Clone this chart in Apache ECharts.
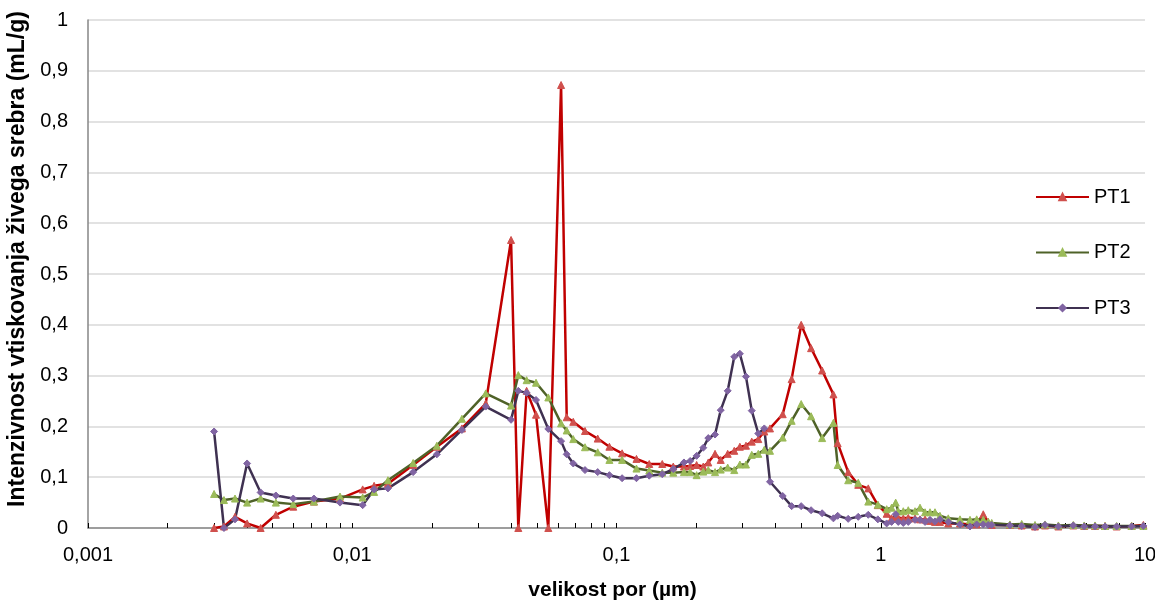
<!DOCTYPE html>
<html><head><meta charset="utf-8">
<script src="https://cdn.jsdelivr.net/npm/echarts@6/dist/echarts.min.js"></script>
<style>html,body{margin:0;padding:0;background:#fff}#c{width:1155px;height:601px}</style>
</head><body><div id="c"></div>
<script>
const poreSize = [0.0030,0.00327,0.0036,0.0040,0.0045,0.00514,0.00598,0.00716,0.00899,0.01095,0.0121,0.01365,0.017,0.0209,0.026,0.032,0.0399,0.0425,0.0457,0.0496,0.0552,0.0617,0.0648,0.0686,0.076,0.0849,0.094,0.105,0.119,0.133,0.149,0.164,0.18,0.19,0.201,0.213,0.2225,0.236,0.248,0.2635,0.279,0.293,0.309,0.325,0.344,0.3625,0.381,0.4256,0.46,0.5,0.545,0.6,0.662,0.687,0.753,0.822,0.897,0.975,1.053,1.099,1.139,1.165,1.217,1.271,1.348,1.408,1.471,1.536,1.604,1.675,1.801,1.995,2.177,2.307,2.443,2.55,2.63,3.08,3.415,3.835,4.183,4.70,5.355,5.89,6.47,7.06,7.81,8.9,9.86];
const pt1 = [0,0.003,0.022,0.009,0,0.026,0.042,0.052,0.058,0.076,0.083,0.087,0.124,0.16,0.196,0.245,0.567,0,0.27,0.223,0,0.872,0.218,0.209,0.191,0.176,0.16,0.147,0.136,0.126,0.126,0.121,0.121,0.122,0.124,0.121,0.129,0.146,0.134,0.146,0.152,0.16,0.162,0.17,0.175,0.19,0.196,0.224,0.293,0.4,0.354,0.31,0.263,0.167,0.11,0.085,0.078,0.045,0.028,0.019,0.022,0.02,0.019,0.02,0.019,0.017,0.017,0.014,0.012,0.012,0.009,0.009,0.007,0.007,0.027,0.012,0.006,0.006,0.005,0.003,0.005,0.003,0.005,0.004,0.004,0.004,0.003,0.004,0.006];
const pt2 = [0.067,0.055,0.058,0.05,0.058,0.05,0.047,0.052,0.062,0.06,0.071,0.094,0.128,0.162,0.215,0.265,0.241,0.301,0.291,0.286,0.257,0.206,0.192,0.175,0.159,0.149,0.134,0.134,0.117,0.113,0.109,0.109,0.11,0.11,0.104,0.111,0.114,0.11,0.115,0.119,0.114,0.125,0.125,0.144,0.146,0.154,0.152,0.178,0.211,0.244,0.22,0.177,0.207,0.124,0.094,0.089,0.052,0.046,0.037,0.04,0.05,0.033,0.033,0.035,0.033,0.04,0.031,0.031,0.031,0.024,0.019,0.017,0.016,0.017,0.016,0.012,0.01,0.007,0.008,0.006,0.007,0.005,0.006,0.005,0.005,0.004,0.004,0.004,0.004];
const pt3 = [0.19,0,0.017,0.127,0.07,0.064,0.058,0.058,0.05,0.045,0.076,0.078,0.11,0.145,0.193,0.239,0.213,0.27,0.266,0.252,0.195,0.171,0.145,0.127,0.114,0.11,0.104,0.098,0.098,0.103,0.106,0.116,0.129,0.132,0.142,0.158,0.177,0.184,0.232,0.27,0.337,0.343,0.298,0.231,0.186,0.196,0.091,0.063,0.043,0.043,0.035,0.029,0.019,0.024,0.018,0.022,0.026,0.017,0.009,0.012,0.027,0.012,0.01,0.012,0.016,0.016,0.012,0.016,0.013,0.017,0.012,0.007,0.003,0.007,0.007,0.006,0.006,0.005,0.004,0.002,0.006,0.003,0.005,0.003,0.003,0.003,0.003,0.003,0.004];
const seriesNames = ['PT1','PT2','PT3'];
const xTickLabels = ['0,001','0,01','0,1','1','10'];
const minorTickFactors = [2,3,4,5,6,7,8,9];

const font = '"Liberation Sans", Arial, sans-serif';
const minorTicks = [];
for (let d = -3; d <= 0; d++) minorTickFactors.forEach(k => minorTicks.push(d + Math.log10(k)));
const pairs = ys => poreSize.map((x, i) => [x, ys[i]]);

const styles = [
  {line:'#C00000', mark:'#D0504D', symbol:'triangle', size:7},
  {line:'#4F6228', mark:'#9BBB59', symbol:'triangle', size:7},
  {line:'#3F3151', mark:'#8064A2', symbol:'diamond', size:7}
];
const data = [pt1, pt2, pt3];

const chart = echarts.init(document.getElementById('c'), null, {renderer:'canvas'});
chart.setOption({
  animation:false,
  backgroundColor:'#fff',
  grid:{left:88, right:10, top:20, bottom:73, containLabel:false, outerBoundsMode:'none'},
  legend:{
    orient:'vertical', left:1035, top:187, padding:0, itemWidth:53, itemHeight:8, itemGap:35.5,
    textStyle:{fontFamily:font, fontSize:20, color:'#000', padding:[0,0,0,0]},
    data:seriesNames
  },
  xAxis:[{
    type:'log', logBase:10, min:0.001, max:10,
    name:'velikost por (µm)', nameLocation:'middle', nameGap:52,
    nameTextStyle:{fontFamily:font, fontSize:21, fontWeight:'bold', color:'#000', padding:[0,8,0,0]},
    axisLine:{show:true, onZero:false, lineStyle:{color:'#868686', width:1.5}},
    axisTick:{show:true, inside:true, length:5, lineStyle:{color:'#000'}},
    axisLabel:{fontFamily:font, fontSize:20, color:'#000', margin:17,
      formatter: v => xTickLabels[Math.round(Math.log10(v)) + 3]},
    splitLine:{show:false}
  },{
    type:'value', min:-3, max:1, position:'bottom',
    axisLine:{show:false}, axisLabel:{show:false}, splitLine:{show:false},
    axisTick:{show:true, inside:true, length:5, lineStyle:{color:'#000'}, customValues:minorTicks}
  }],
  yAxis:{
    type:'value', min:0, max:1, interval:0.1,
    name:'Intenzivnost vtiskovanja živega srebra (mL/g)', nameLocation:'middle', nameGap:52,
    nameTextStyle:{fontFamily:font, fontSize:23, fontWeight:'bold', color:'#000', padding:[0,0,0,30]},
    axisLine:{show:true, onZero:false, lineStyle:{color:'#868686', width:1.5}},
    axisTick:{show:false},
    axisLabel:{fontFamily:font, fontSize:20, color:'#000', margin:20,
      formatter: v => (v === 0 ? '0' : v === 1 ? '1' : v.toFixed(1).replace('.', ','))},
    splitLine:{show:true, lineStyle:{color:'#D9D9D9', width:1.5}}
  },
  series: seriesNames.map((n, i) => ({
    name:n, type:'line', xAxisIndex:0, data:pairs(data[i]),
    symbol:styles[i].symbol, symbolSize:styles[i].size, showSymbol:true,
    lineStyle:{color:styles[i].line, width:2.5},
    itemStyle:{color:styles[i].mark, borderColor:styles[i].mark, borderWidth:1},
    emphasis:{disabled:true}
  }))
});
</script></body></html>
